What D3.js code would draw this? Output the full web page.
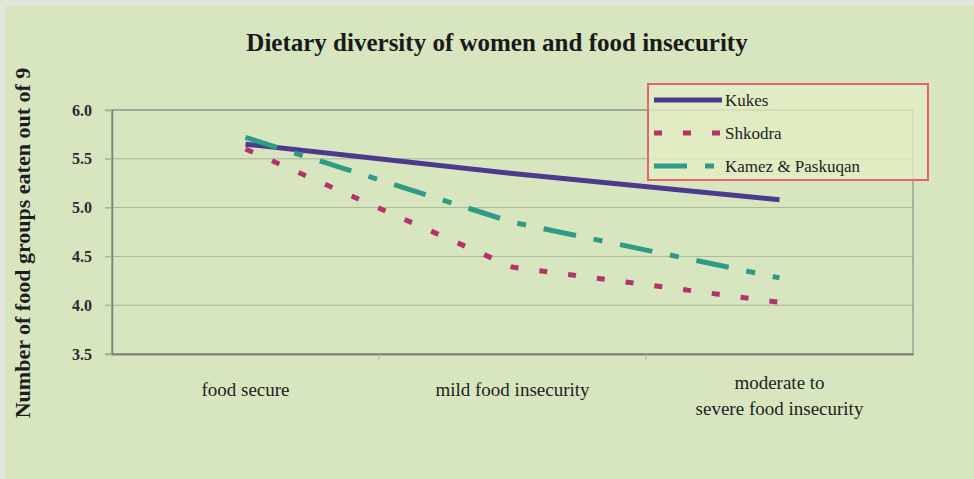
<!DOCTYPE html>
<html><head><meta charset="utf-8">
<script src="https://cdn.jsdelivr.net/npm/d3@7"></script>
<style>
html,body{margin:0;padding:0;background:#d9e7c2;}
svg{display:block;}
</style></head>
<body>
<svg id="chart" width="974" height="479"></svg>
<script>
const categories = ["food secure", "mild food insecurity", "moderate to\nsevere food insecurity"];
const seriesNames = ["Kukes", "Shkodra", "Kamez & Paskuqan"];
const kukes = [5.65, 5.35, 5.08];
const shkodra = [5.60, 4.39, 4.03];
const kamez = [5.72, 4.85, 4.28];
const yTicks = [3.5, 4.0, 4.5, 5.0, 5.5, 6.0];
const title = "Dietary diversity of women and food insecurity";
const yLabel = "Number of food groups eaten out of 9";

const series = [
  {name: seriesNames[0], values: kukes, color: "#4b3a8e", dash: null},
  {name: seriesNames[1], values: shkodra, color: "#b4336c", dash: "8,21"},
  {name: seriesNames[2], values: kamez, color: "#2f9a86", dash: "33,18,9,18"}
];

const svg = d3.select("#chart");
const W = 974, H = 479;
const m = {left: 112, right: 61, top: 110, bottom: 125};
const pw = W - m.left - m.right, ph = H - m.top - m.bottom;

svg.append("rect").attr("width", W).attr("height", H).attr("fill", "#d8e6c0");
svg.append("rect").attr("width", W).attr("height", 6).attr("fill", "#e3e6dc");
svg.append("rect").attr("width", 5).attr("height", H).attr("fill", "#e3e6dc");

const x = d3.scaleBand().domain(categories).range([m.left, m.left + pw]);
const y = d3.scaleLinear().domain([3.5, 6.0]).range([m.top + ph, m.top]);

// gridlines
svg.append("g").selectAll("line").data(yTicks).join("line")
  .attr("x1", m.left - 7).attr("x2", m.left + pw)
  .attr("y1", d => y(d)).attr("y2", d => y(d))
  .attr("stroke", "#a9b39c").attr("stroke-width", 1);

// plot border
svg.append("rect").attr("x", m.left).attr("y", m.top).attr("width", pw).attr("height", ph)
  .attr("fill", "none").attr("stroke", "#8a8f84").attr("stroke-width", 1.2);

// y axis
const yAxis = svg.append("g").attr("transform", `translate(${m.left},0)`)
  .call(d3.axisLeft(y).tickValues(yTicks).tickFormat(d3.format(".1f")).tickSize(7));
yAxis.select(".domain").attr("stroke", "#7d8278").attr("stroke-width", 1.5);
yAxis.selectAll(".tick line").attr("stroke", "#a9b39c");
yAxis.selectAll("text").attr("font-family", "Liberation Serif, serif").attr("font-weight", "bold")
  .attr("font-size", 16).attr("fill", "#2a2a2a").attr("x", -20);

// x axis
const xAxis = svg.append("g").attr("transform", `translate(0,${m.top + ph})`)
  .call(d3.axisBottom(x).tickSize(0).tickFormat(""));
xAxis.select(".domain").attr("stroke", "#7d8278").attr("stroke-width", 2);
// boundary ticks
svg.append("g").selectAll("line").data(categories.slice(1)).join("line")
  .attr("x1", d => x(d)).attr("x2", d => x(d))
  .attr("y1", m.top + ph).attr("y2", m.top + ph + 6)
  .attr("stroke", "#a9b39c");

const labG = svg.append("g");
categories.forEach(c => {
  const lines = c.split("\n");
  const cx = x(c) + x.bandwidth() / 2;
  const t = labG.append("text").attr("x", cx)
    .attr("y", lines.length > 1 ? 389 : 396).attr("text-anchor", "middle")
    .attr("font-family", "Liberation Serif, serif").attr("font-size", 19)
    .attr("fill", "#1e1e1e");
  lines.forEach((l, i) => t.append("tspan").attr("x", cx)
    .attr("dy", i === 0 ? 0 : 26).text(l));
});

// lines
const line = d3.line().x((d, i) => x(categories[i]) + x.bandwidth() / 2).y(d => y(d));
series.forEach(s => {
  svg.append("path").datum(s.values).attr("d", line)
    .attr("fill", "none").attr("stroke", s.color).attr("stroke-width", 5)
    .attr("stroke-dasharray", s.dash);
});

// title
svg.append("text").attr("x", 497).attr("y", 51).attr("text-anchor", "middle")
  .attr("font-family", "Liberation Serif, serif").attr("font-weight", "bold")
  .attr("font-size", 25).attr("fill", "#1a1a1a").text(title);

// y label
svg.append("text").attr("transform", "translate(30,243) rotate(-90)")
  .attr("text-anchor", "middle").attr("font-family", "Liberation Serif, serif")
  .attr("font-weight", "bold").attr("font-size", 22).attr("fill", "#1e1e1e").text(yLabel);

// legend
const lg = svg.append("g");
lg.append("rect").attr("x", 648).attr("y", 84).attr("width", 280).attr("height", 96)
  .attr("fill", "#e6edc4").attr("fill-opacity", 0.75)
  .attr("stroke", "#e3646c").attr("stroke-width", 2);
series.forEach((s, i) => {
  const yy = 100 + i * 33;
  lg.append("line").attr("x1", 654).attr("x2", 722).attr("y1", yy).attr("y2", yy)
    .attr("stroke", s.color).attr("stroke-width", 5).attr("stroke-dasharray", s.dash);
  lg.append("text").attr("x", 725).attr("y", yy + 6)
    .attr("font-family", "Liberation Serif, serif").attr("font-size", 17)
    .attr("fill", "#1e1e1e").text(s.name);
});
</script>
</body></html>
